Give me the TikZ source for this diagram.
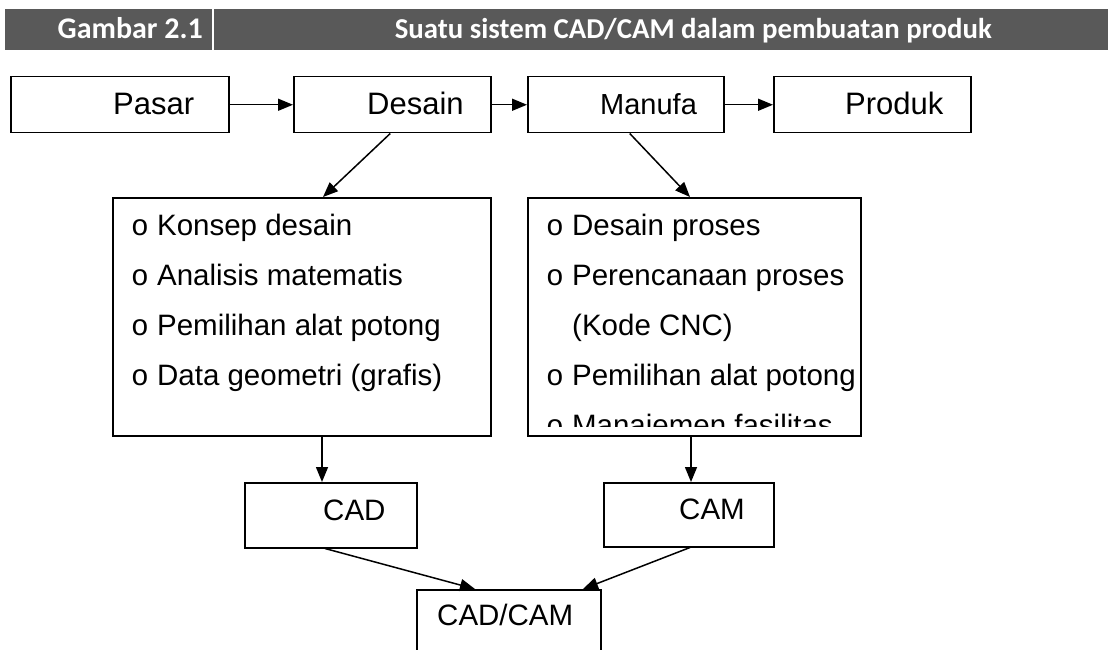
\documentclass[tikz,border=0pt]{standalone}
\usepackage{fontspec}
\setmainfont{Liberation Sans}
\newfontfamily\hdrfont{Carlito}
\newfontfamily\bulfont{Liberation Mono}
\usetikzlibrary{arrows.meta}
\definecolor{hdrgray}{HTML}{595959}
\begin{document}
\begin{tikzpicture}[x=1pt,y=-1pt,
 box/.style={draw,line width=1.5pt,rectangle,inner sep=0pt,anchor=north west},
 arr/.style={line width=1.5pt,-{Triangle[length=15pt,width=12pt]}},
 lbl/.style={anchor=base west,inner sep=0pt,font=\fontsize{31}{37}\selectfont},
 itm/.style={anchor=base west,inner sep=0pt,font=\fontsize{29.5}{35}\selectfont},
 hdr/.style={inner sep=0pt,text=white,font=\hdrfont\bfseries\fontsize{30}{36}\selectfont},
]
\useasboundingbox (0,0) rectangle (1108,650);
\clip (0,0) rectangle (1108,650);
% header
\fill[hdrgray] (5,9) rectangle (1108,50);
\fill[white] (212,9) rectangle (214,50);
\node[hdr,anchor=base east] (hnum) at (203,39) {Gambar 2.1};
\node[hdr,anchor=base east,font=\hdrfont\bfseries\fontsize{28.8}{35}\selectfont] (htitle) at (992,39) {Suatu sistem CAD/CAM dalam pembuatan produk};
% top row
\node[box,minimum width=218pt,minimum height=56pt] (pasar) at (10,76) {};
\node[box,minimum width=197pt,minimum height=56pt] (desain) at (293,76) {};
\node[box,minimum width=196pt,minimum height=56pt] (manufa) at (527,76) {};
\node[box,minimum width=197pt,minimum height=56pt] (produk) at (773,76) {};
\node[lbl] (tpasar) at (113,115) {Pasar};
\node[lbl] (tdesain) at (367,115) {Desain};
\node[lbl,font=\fontsize{29}{35}\selectfont] (tmanufa) at (600,115) {Manufa};
\node[lbl] (tprod) at (845,115) {Produk};
% list boxes
\node[box,minimum width=378pt,minimum height=238pt] (lbox) at (112,197) {};
\node[box,minimum width=333pt,minimum height=238pt] (rbox) at (527,197) {};
\node[itm] (l1) at (131,235) {{\bulfont o} Konsep desain};
\node[itm] (l2) at (131,285) {{\bulfont o} Analisis matematis};
\node[itm] (l3) at (131,335) {{\bulfont o} Pemilihan alat potong};
\node[itm] (l4) at (131,385) {{\bulfont o} Data geometri (grafis)};
\node[itm] (r1) at (546,235) {{\bulfont o} Desain proses};
\node[itm] (r2) at (546,285) {{\bulfont o} Perencanaan proses};
\node[itm] (r3) at (572,335) {(Kode CNC)};
\node[itm] (r4) at (546,385) {{\bulfont o} Pemilihan alat potong};
\begin{scope}
\clip (528,400) rectangle (859,426);
\node[itm] (r5) at (546,435) {{\bulfont o} Manajemen fasilitas};
\end{scope}
% CAD / CAM
\node[box,minimum width=172pt,minimum height=65pt] (cad) at (244,482) {};
\node[box,minimum width=170pt,minimum height=64pt] (cam) at (603,482) {};
\node[itm] (tcad) at (323,520) {CAD};
\node[itm] (tcam) at (679,519) {CAM};
\node[box,minimum width=184pt,minimum height=100pt] (cadcam) at (416,589) {};
\node[itm] (tcadcam) at (437,625) {CAD/CAM};
% connectors
\draw[arr] (pasar.east) -- (desain.west);
\draw[arr] (desain.east) -- (manufa.west);
\draw[arr] (manufa.east) -- (produk.west);
\draw[arr] ([xshift=-2pt]desain.south) -- ([xshift=211pt]lbox.north west);
\draw[arr] ([xshift=4pt]manufa.south) -- ([xshift=163pt]rbox.north west);
\draw[arr] ([xshift=210pt]lbox.south west) -- ([xshift=78pt]cad.north west);
\draw[arr] ([xshift=164pt]rbox.south west) -- ([xshift=88pt]cam.north west);
\draw[arr] ([xshift=81pt]cad.south west) -- ([xshift=59pt]cadcam.north west);
\draw[arr] ([xshift=87pt]cam.south west) -- ([xshift=167pt]cadcam.north west);
\end{tikzpicture}
\end{document}
